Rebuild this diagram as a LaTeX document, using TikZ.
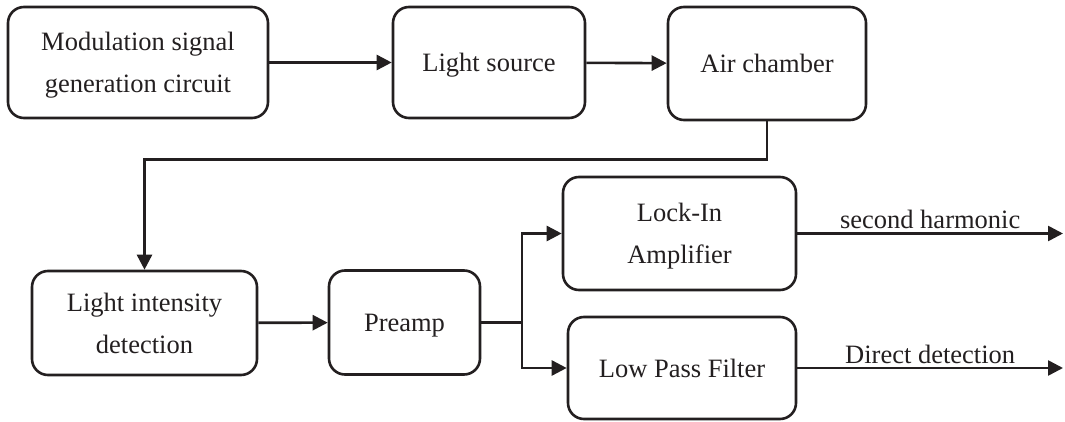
\documentclass[tikz,border=0pt]{standalone}
\usepackage{fontspec}
\setmainfont{Liberation Serif}
\usepackage{tikz}
\usetikzlibrary{arrows.meta}
\definecolor{inkblk}{HTML}{231F20}

\begin{document}
\begin{tikzpicture}[x=1pt,y=-1pt,color=inkblk,line width=2.6pt,
    font=\fontsize{26.5}{42}\selectfont,
    >={Triangle[length=15pt,width=15pt]}]
\useasboundingbox (0,0) rectangle (1065,422);
\begin{scope}[every node/.style={draw,rounded corners=16pt,align=center,inner sep=0pt,text depth=0pt}]
    \node[minimum width=260pt,minimum height=111pt] (mod) at (138,62.5) {Modulation signal\\generation circuit};
    \node[minimum width=192pt,minimum height=111pt] (light) at (489,62.5) {Light source};
    \node[minimum width=198pt,minimum height=113pt] (air) at (767,63.5) {Air chamber};
    \node[minimum width=225pt,minimum height=104pt] (detect) at (144.5,323) {Light intensity\\detection};
    \node[minimum width=151pt,minimum height=104pt] (preamp) at (404.5,322.5) {Preamp};
    \node[minimum width=233pt,minimum height=113pt] (lockin) at (679.5,233.5) {Lock-In\\Amplifier};
    \node[minimum width=228pt,minimum height=102pt] (lowpass) at (682,368) {Low Pass Filter};
\end{scope}
\coordinate (split) at (522,322.5);
\coordinate (harm) at (1063,233.5);
\coordinate (direct) at (1063,368);
\begin{scope}[->]
    \path (mod) edge (light);
    \path (light) edge (air);
    \draw (air.south) -- ++(0,38) -| (detect.north);
    \path (detect) edge (preamp);
    \draw[-] (preamp.east) -- (split);
    \draw (split) |- (lockin.west);
    \draw (split) |- (lowpass.west);
    \path (lockin) edge node[above] {second harmonic} (harm);
    \path (lowpass) edge node[above] {Direct detection} (direct);
\end{scope}
\end{tikzpicture}
\end{document}
